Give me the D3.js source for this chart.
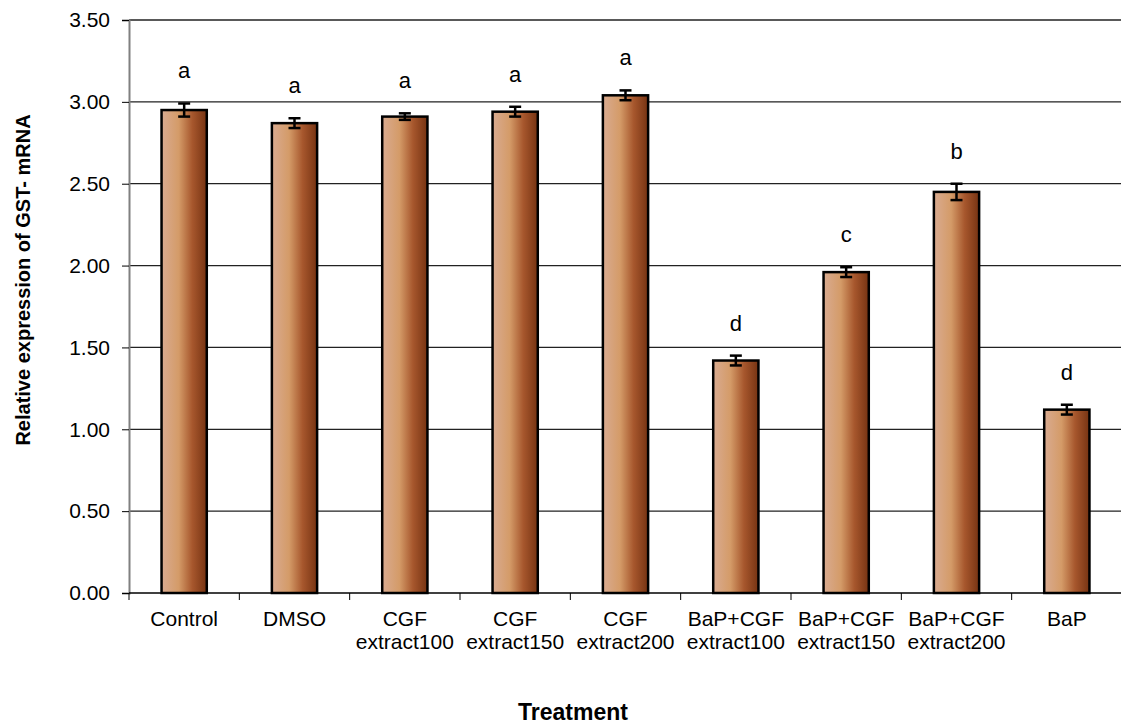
<!DOCTYPE html>
<html>
<head>
<meta charset="utf-8">
<script src="https://cdn.jsdelivr.net/npm/d3@7"></script>
<style>
  body { margin: 0; background: #fff; }
  text { font-family: "Liberation Sans", Arial, sans-serif; fill: #000; }
</style>
</head>
<body>
<div id="chart"></div>
<script>
const categories = [
    ["Control"], ["DMSO"], ["CGF", "extract100"], ["CGF", "extract150"], ["CGF", "extract200"],
    ["BaP+CGF", "extract100"], ["BaP+CGF", "extract150"], ["BaP+CGF", "extract200"], ["BaP"]
];
const means = [2.95, 2.87, 2.91, 2.94, 3.04, 1.42, 1.96, 2.45, 1.12];
const errors = [0.04, 0.03, 0.02, 0.03, 0.03, 0.03, 0.03, 0.05, 0.03];
const letters = ["a", "a", "a", "a", "a", "d", "c", "b", "d"];
const yTicks = [0, 0.5, 1, 1.5, 2, 2.5, 3, 3.5];

const width = 1121;
const height = 724;
const margin = { top: 20, right: -1, bottom: 131, left: 129 };

const svg = d3.select("#chart")
    .append("svg")
    .attr("width", width)
    .attr("height", height);

const x = d3.scaleBand()
    .domain(d3.range(categories.length))
    .range([margin.left, width - margin.right])
    .paddingInner(0.59)
    .paddingOuter(0.295);

const y = d3.scaleLinear()
    .domain([0, 3.5])
    .range([height - margin.bottom, margin.top]);

const grad = svg.append("defs").append("linearGradient")
    .attr("id", "barGrad")
    .attr("x1", "0%").attr("x2", "100%")
    .attr("y1", "0%").attr("y2", "0%");
grad.selectAll("stop")
    .data([["0%", "#d9ab91"], ["38%", "#d49b68"], ["68%", "#a7572d"], ["100%", "#763312"]])
    .enter()
    .append("stop")
    .attr("offset", d => d[0])
    .attr("stop-color", d => d[1]);

// gridlines
svg.append("g")
    .selectAll("line")
    .data(yTicks.filter(d => d > 0))
    .enter()
    .append("line")
    .attr("x1", margin.left)
    .attr("x2", width)
    .attr("y1", d => y(d))
    .attr("y2", d => y(d))
    .attr("stroke", "#222")
    .attr("stroke-width", 1.3);

// y axis
const yAxis = svg.append("g")
    .attr("transform", `translate(${margin.left},0)`)
    .call(d3.axisLeft(y).tickValues(yTicks).tickFormat(d3.format(".2f")).tickSize(7).tickPadding(12));
yAxis.select(".domain").attr("stroke", "#808080").attr("stroke-width", 2);
yAxis.selectAll(".tick line").attr("stroke", "#000");
yAxis.selectAll(".tick text")
    .style("font-size", "21px")
    .style("font-family", "Liberation Sans, Arial, sans-serif");

// x axis
const bounds = d3.range(categories.length + 1).map(i => margin.left + i * x.step());
svg.append("line")
    .attr("x1", margin.left).attr("x2", width)
    .attr("y1", y(0)).attr("y2", y(0))
    .attr("stroke", "#000").attr("stroke-width", 1.5);
svg.append("g")
    .selectAll("line")
    .data(bounds)
    .enter()
    .append("line")
    .attr("x1", d => d).attr("x2", d => d)
    .attr("y1", y(0)).attr("y2", y(0) + 7)
    .attr("stroke", "#000");

svg.append("g")
    .selectAll("text")
    .data(categories)
    .enter()
    .append("text")
    .attr("x", (d, i) => x(i) + x.bandwidth() / 2)
    .attr("y", y(0) + 33)
    .style("text-anchor", "middle")
    .style("font-size", "21px")
    .selectAll("tspan")
    .data(d => d)
    .enter()
    .append("tspan")
    .attr("x", function() { return this.parentNode.getAttribute("x"); })
    .attr("dy", (d, i) => i === 0 ? 0 : 23)
    .text(d => d);

// bars
svg.append("g")
    .selectAll("rect")
    .data(means)
    .enter()
    .append("rect")
    .attr("x", (d, i) => x(i))
    .attr("y", d => y(d))
    .attr("width", x.bandwidth())
    .attr("height", d => y(0) - y(d))
    .attr("fill", "url(#barGrad)")
    .attr("stroke", "#000")
    .attr("stroke-width", 2.5);

// error bars
const eb = svg.append("g")
    .selectAll("g")
    .data(means)
    .enter()
    .append("g")
    .attr("stroke", "#000")
    .attr("stroke-width", 2.5);
eb.append("line")
    .attr("x1", (d, i) => x(i) + x.bandwidth() / 2)
    .attr("x2", (d, i) => x(i) + x.bandwidth() / 2)
    .attr("y1", (d, i) => y(d + errors[i]))
    .attr("y2", (d, i) => y(d - errors[i]));
[1, -1].forEach(s => {
    eb.append("line")
        .attr("x1", (d, i) => x(i) + x.bandwidth() / 2 - 6)
        .attr("x2", (d, i) => x(i) + x.bandwidth() / 2 + 6)
        .attr("y1", (d, i) => y(d + s * errors[i]))
        .attr("y2", (d, i) => y(d + s * errors[i]));
});

// significance letters
svg.append("g")
    .selectAll("text")
    .data(letters)
    .enter()
    .append("text")
    .attr("x", (d, i) => x(i) + x.bandwidth() / 2)
    .attr("y", (d, i) => y(means[i] + errors[i]) - 25)
    .style("text-anchor", "middle")
    .style("font-size", "22px")
    .text(d => d);

// axis titles
svg.append("text")
    .attr("x", 573)
    .attr("y", 720)
    .style("text-anchor", "middle")
    .style("font-size", "23px")
    .style("font-weight", "bold")
    .text("Treatment");

svg.append("text")
    .attr("transform", "translate(30,280) rotate(-90)")
    .style("text-anchor", "middle")
    .style("font-size", "20px")
    .style("font-weight", "bold")
    .text("Relative expression of GST- mRNA");
</script>
</body>
</html>
